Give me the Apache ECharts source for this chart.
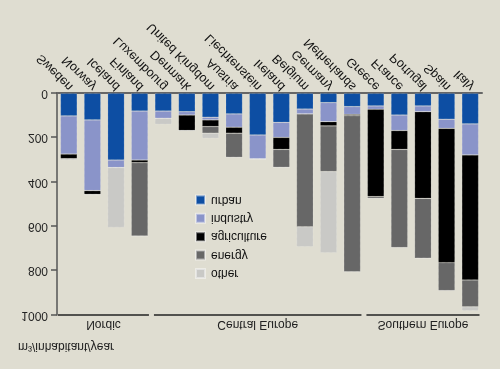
<!DOCTYPE html>
<html>
<head>
<meta charset="utf-8">
<script src="https://cdn.jsdelivr.net/npm/echarts@6/dist/echarts.min.js"></script>
<style>
html,body{margin:0;padding:0;background:#dfddd1;}
#wrap{width:500px;height:369px;transform:scaleY(-1);transform-origin:50% 50%;}
#c{width:500px;height:369px;}
</style>
</head>
<body>
<div id="wrap"><div id="c"></div></div>
<script>
const countries = ['Sweden','Norway','Iceland','Finland','Luxembourg','Denmark','United Kingdom','Austria','Liechtenstein','Ireland','Belgium','Germany','Netherlands','Greece','France','Portugal','Spain','Italy'];
const urban       = [102,120,301, 80, 80, 83,108, 93,188,131, 71, 42, 60, 57, 98, 57,117,138];
const industry    = [172,319, 34,221, 33, 15, 12, 60,108, 68, 22, 86, 35, 15, 70, 26, 41,140];
const agriculture = [ 21, 17,  0, 12,  0, 70, 30, 27,  0, 54,  0, 19,  6,394, 85,391,606,564];
const energy      = [  0,  0,  0,331,  0,  0, 30,109,  0, 81,509,206,704,  8,443,270,126,121];
const other       = [  6,  4,270,  0, 27,  0, 23,  0,  0,  0, 90,366,  0,  0,  0,  0,  0, 18];
const yTicks = [0,200,400,600,800,1000];
const groupNames = ['Nordic','Central Europe','Southern Europe'];
const groupFirst = [0,4,13];
const groupLast  = [3,12,17];
const unitLabel = 'm³/inhabitant/year';

const seriesNames = ['urban','industry','agriculture','energy','other'];
const seriesData = [urban,industry,agriculture,energy,other];
const seriesColors = ['#0d4ea3','#8a94c9','#000000','#676767','#c9c9c6'];

const FONT = '"Liberation Sans", Arial, sans-serif';
const chart = echarts.init(document.getElementById('c'), null, {renderer:'canvas'});

const option = {
  backgroundColor: '#dfddd1',
  animation: false,
  textStyle: {fontFamily: FONT},
  grid: {left: 57, right: 18, top: 54, bottom: 93.3, containLabel: false},
  legend: {
    orient: 'vertical', left: 190, top: 83.5,
    itemWidth: 9, itemHeight: 9, itemGap: 4.4,
    icon: 'rect',
    data: ['other','energy','agriculture','industry','urban'],
    textStyle: {fontFamily: FONT, fontSize: 12, lineHeight: 14, color: '#111', padding: [0,0,0,1]}
  },
  xAxis: {
    type: 'category', data: countries, position: 'bottom',
    axisLine: {lineStyle: {color: '#666', width: 2}},
    axisTick: {show: false},
    axisLabel: {rotate: 45, fontSize: 12.6, color: '#111', margin: 7, interval: 0, fontFamily: FONT,
      padding: [0, -3, 0, 0]}
  },
  yAxis: {
    type: 'value', min: yTicks[0], max: yTicks[yTicks.length-1], interval: yTicks[1]-yTicks[0],
    axisLine: {show: true, lineStyle: {color: '#555', width: 1.5}},
    axisTick: {show: true, length: 6, lineStyle: {color: '#555', width: 1.5}},
    axisLabel: {fontSize: 12, color: '#222', margin: 9, fontFamily: FONT, formatter: v => String(v)},
    splitLine: {show: false}
  },
  series: seriesNames.map((n,i) => ({
    name: n, type: 'bar', stack: 'total', data: seriesData[i],
    barCategoryGap: '29%',
    itemStyle: {color: seriesColors[i], borderColor: 'rgba(255,255,255,0.45)', borderWidth: 0.6, borderType: 'dotted'}
  }))
};
chart.setOption(option);

function addGraphics(){
  const g = [];
  const yTop = chart.convertToPixel({yAxisIndex:0}, yTicks[yTicks.length-1]);
  const x0 = chart.convertToPixel({xAxisIndex:0}, countries[0]);
  const x1 = chart.convertToPixel({xAxisIndex:0}, countries[1]);
  const band = x1 - x0;
  const axisX = x0 - band/2;
  groupNames.forEach((name,i) => {
    const a = chart.convertToPixel({xAxisIndex:0}, countries[groupFirst[i]]) - band/2 + (i===0 ? 1 : 2.5);
    const b = chart.convertToPixel({xAxisIndex:0}, countries[groupLast[i]]) + band/2 - 2.5;
    g.push({type:'line', shape:{x1:a, y1:yTop, x2:b, y2:yTop}, style:{stroke:'#222', lineWidth:1.5}});
    g.push({type:'text', x:(a+b)/2, y:yTop-9.5, style:{text:name, fontFamily:FONT, fontSize:12, fill:'#222', align:'center', verticalAlign:'middle'}});
  });
  g.push({type:'text', x:axisX-39, y:yTop-31.5, style:{text:unitLabel, fontFamily:FONT, fontSize:12, fill:'#222', align:'left', verticalAlign:'middle'}});
  chart.setOption({graphic: g});
}
addGraphics();
</script>
</body>
</html>
